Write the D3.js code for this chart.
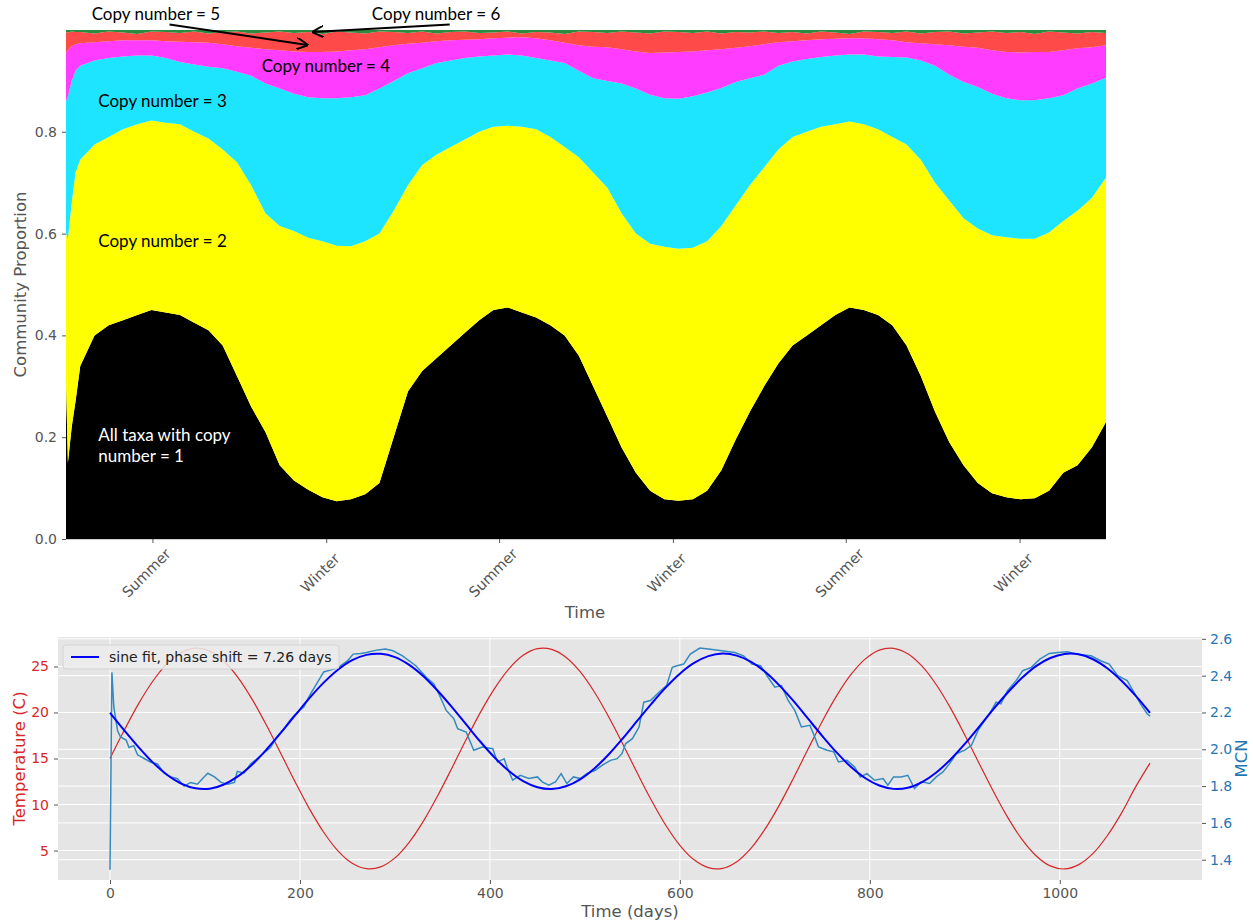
<!DOCTYPE html>
<html>
<head>
<meta charset="utf-8">
<script src="https://cdn.jsdelivr.net/npm/d3@7"></script>
<style>
  body { margin: 0; background: #fff; }
  svg text { font-family: "DejaVu Sans", sans-serif; }
  .note { font-family: Lato, "Open Sans", sans-serif; font-size: 17px; }
</style>
</head>
<body>
<svg id="chart" width="1253" height="922"></svg>
<script>
// ---- top panel: cumulative community proportion ----
const stackDays = [0, 2, 6, 10, 15, 30, 45, 60, 75, 90, 105, 120, 135, 150, 165, 180, 195, 210, 225, 240, 255, 270, 285, 300,
  315, 330, 345, 360, 375, 390, 405, 420, 435, 450, 465, 480, 495, 510, 525, 540, 555, 570, 585, 600, 615, 630, 645,
  660, 675, 690, 705, 720, 735, 750, 765, 780, 795, 810, 825, 840, 855, 870, 885, 900, 915, 930, 945, 960, 975, 990,
  1005, 1020, 1035, 1050, 1065, 1080, 1095];
// copy number <= 1
const upTo1 = [0.31, 0.15, 0.22, 0.27, 0.34, 0.40, 0.42, 0.43, 0.44, 0.45, 0.445, 0.44, 0.425, 0.41, 0.38, 0.32, 0.26, 0.21,
  0.145, 0.115, 0.097, 0.082, 0.074, 0.078, 0.088, 0.11, 0.20, 0.29, 0.33, 0.355, 0.38, 0.405, 0.43, 0.45, 0.455, 0.445,
  0.435, 0.42, 0.40, 0.36, 0.30, 0.24, 0.18, 0.13, 0.095, 0.078, 0.075, 0.078, 0.095, 0.135, 0.195, 0.25, 0.30, 0.345,
  0.38, 0.40, 0.42, 0.44, 0.455, 0.45, 0.44, 0.42, 0.38, 0.32, 0.25, 0.19, 0.145, 0.11, 0.09, 0.082, 0.078, 0.08, 0.095,
  0.13, 0.145, 0.18, 0.23];
// copy number <= 2
const upTo2 = [0.60, 0.59, 0.66, 0.72, 0.745, 0.775, 0.79, 0.805, 0.815, 0.822, 0.818, 0.815, 0.80, 0.787, 0.765, 0.74, 0.695,
  0.64, 0.615, 0.605, 0.592, 0.585, 0.576, 0.575, 0.585, 0.60, 0.645, 0.695, 0.735, 0.755, 0.77, 0.785, 0.80, 0.81, 0.812,
  0.81, 0.805, 0.79, 0.77, 0.75, 0.72, 0.69, 0.64, 0.60, 0.58, 0.574, 0.570, 0.572, 0.585, 0.615, 0.655, 0.695, 0.73,
  0.765, 0.79, 0.80, 0.81, 0.815, 0.82, 0.815, 0.805, 0.79, 0.775, 0.745, 0.70, 0.665, 0.63, 0.61, 0.597, 0.593, 0.59,
  0.59, 0.602, 0.625, 0.645, 0.67, 0.71];
// copy number <= 3
const upTo3 = [0.86, 0.87, 0.90, 0.92, 0.93, 0.94, 0.945, 0.948, 0.95, 0.95, 0.945, 0.937, 0.932, 0.928, 0.925, 0.918, 0.91,
  0.895, 0.885, 0.875, 0.868, 0.866, 0.866, 0.868, 0.872, 0.885, 0.90, 0.915, 0.925, 0.935, 0.94, 0.945, 0.948, 0.95,
  0.952, 0.95, 0.945, 0.94, 0.935, 0.92, 0.905, 0.90, 0.895, 0.885, 0.873, 0.866, 0.865, 0.87, 0.877, 0.886, 0.898, 0.905,
  0.912, 0.93, 0.938, 0.943, 0.947, 0.95, 0.952, 0.952, 0.948, 0.947, 0.946, 0.94, 0.93, 0.912, 0.898, 0.888, 0.875,
  0.866, 0.862, 0.862, 0.866, 0.872, 0.885, 0.895, 0.906];
// copy number <= 4
const upTo4 = [0.955, 0.96, 0.968, 0.972, 0.974, 0.976, 0.978, 0.98, 0.98, 0.98, 0.978, 0.977, 0.976, 0.975, 0.972, 0.968,
  0.965, 0.962, 0.96, 0.958, 0.957, 0.957, 0.958, 0.96, 0.962, 0.966, 0.97, 0.973, 0.975, 0.978, 0.98, 0.981, 0.982, 0.984,
  0.985, 0.986, 0.984, 0.98, 0.975, 0.97, 0.967, 0.966, 0.962, 0.958, 0.955, 0.956, 0.957, 0.958, 0.96, 0.962, 0.965,
  0.968, 0.972, 0.976, 0.978, 0.98, 0.982, 0.983, 0.984, 0.984, 0.982, 0.98, 0.976, 0.974, 0.972, 0.97, 0.967, 0.965,
  0.96, 0.957, 0.956, 0.957, 0.957, 0.96, 0.964, 0.966, 0.97];
// copy number <= 5 (the rest, copy number 6, fills up to 1)
const upTo5 = [0.996, 0.995, 0.997, 0.996, 0.996, 0.993, 0.997, 0.995, 0.992, 0.997, 0.996, 0.994, 0.997, 0.993, 0.996,
  0.997, 0.993, 0.995, 0.997, 0.994, 0.996, 0.992, 0.997, 0.995, 0.993, 0.997, 0.996, 0.994, 0.997, 0.993, 0.996, 0.997,
  0.994, 0.995, 0.997, 0.993, 0.996, 0.995, 0.992, 0.997, 0.996, 0.994, 0.997, 0.995, 0.993, 0.997, 0.996, 0.994, 0.997,
  0.993, 0.996, 0.995, 0.997, 0.994, 0.996, 0.993, 0.997, 0.995, 0.992, 0.997, 0.996, 0.994, 0.997, 0.993, 0.996, 0.997,
  0.993, 0.995, 0.997, 0.994, 0.996, 0.992, 0.997, 0.995, 0.993, 0.996, 0.994];
const layerColors = ["#000000", "#ffff00", "#1ee5ff", "#ff3cff", "#ff4a4a", "#2e8b3e"];

const seasonDays = [91, 274, 456, 639, 821, 1004];
const seasonLabels = ["Summer", "Winter", "Summer", "Winter", "Summer", "Winter"];

const noteText = ["Copy number = 5", "Copy number = 6", "Copy number = 4", "Copy number = 3", "Copy number = 2",
  "All taxa with copy", "number = 1"];
const noteDay = [27, 322, 206, 34, 34, 34, 34];
const noteValue = [1.02, 1.02, 0.9175, 0.849, 0.574, 0.1925, 0.151];
const noteColor = ["#000", "#000", "#000", "#000", "#000", "#fff", "#fff"];
// arrows: [fromDay, fromValue, toDay, toValue]
const arrows = [[109, 1.011, 254, 0.9705], [404, 1.011, 260, 0.996]];

// ---- bottom panel ----
const gridDays = [0, 15, 30, 45, 60, 75, 90, 105, 120, 135, 150, 165, 180, 195, 210, 225, 240, 255, 270, 285, 300, 315, 330,
  345, 360, 375, 390, 405, 420, 435, 450, 465, 480, 495, 510, 525, 540, 555, 570, 585, 600, 615, 630, 645, 660, 675, 690,
  705, 720, 735, 750, 765, 780, 795, 810, 825, 840, 855, 870, 885, 900, 915, 930, 945, 960, 975, 990, 1005, 1020, 1035,
  1050, 1065, 1080, 1095];
const temperature = [15.00, 18.06, 20.93, 23.39, 25.31, 26.53, 27.00, 26.67, 25.56, 23.76, 21.37, 18.56, 15.52, 12.44, 9.53,
  6.99, 4.97, 3.62, 3.03, 3.22, 4.20, 5.90, 8.20, 10.95, 13.97, 17.06, 20.01, 22.62, 24.74, 26.21, 26.93, 26.86, 26.01,
  24.43, 22.22, 19.53, 16.55, 13.45, 10.47, 7.78, 5.57, 3.99, 3.14, 3.07, 3.79, 5.26, 7.38, 9.99, 12.94, 16.03, 19.05,
  21.80, 24.10, 25.80, 26.78, 26.97, 26.38, 25.03, 23.01, 20.47, 17.56, 14.48, 11.44, 8.63, 6.24, 4.44, 3.33, 3.00, 3.47,
  4.69, 6.61, 9.07, 11.94, 14.50];
const sineFit = [2.198, 2.103, 2.012, 1.929, 1.862, 1.814, 1.788, 1.786, 1.809, 1.854, 1.919, 2.000, 2.090, 2.185, 2.278,
  2.362, 2.432, 2.484, 2.513, 2.519, 2.501, 2.459, 2.397, 2.318, 2.229, 2.135, 2.041, 1.955, 1.882, 1.827, 1.794, 1.784,
  1.799, 1.837, 1.896, 1.972, 2.060, 2.154, 2.247, 2.335, 2.411, 2.469, 2.506, 2.520, 2.509, 2.475, 2.420, 2.346, 2.260,
  2.166, 2.072, 1.983, 1.905, 1.844, 1.803, 1.785, 1.791, 1.822, 1.874, 1.945, 2.029, 2.122, 2.217, 2.307, 2.387, 2.452,
  2.496, 2.518, 2.516, 2.489, 2.440, 2.372, 2.290, 2.198];
const mcnDays = [0, 2, 4, 8, 11, 17, 20, 25, 29, 36, 43, 50, 57, 64, 71, 78, 85, 92, 99, 103, 110, 117, 124, 131, 134, 141,
  148, 155, 162, 169, 176, 183, 190, 197, 204, 211, 218, 225, 232, 239, 250, 256, 264, 270, 282, 290, 298, 308, 322, 333,
  341, 347, 354, 362, 366, 375, 383, 392, 403, 408, 415, 418, 424, 432, 441, 450, 455, 462, 469, 475, 481, 488, 495, 502,
  511, 518, 527, 534, 539, 543, 550, 557, 562, 569, 578, 586, 592, 597, 604, 611, 621, 630, 644, 658, 667, 676, 685, 693,
  700, 707, 714, 721, 728, 737, 742, 746, 755, 762, 767, 776, 784, 790, 797, 805, 814, 819, 825, 833, 840, 847, 854, 863,
  870, 877, 884, 891, 900, 907, 914, 921, 928, 933, 938, 945, 954, 961, 970, 979, 989, 998, 1008, 1021, 1033, 1043, 1052,
  1061, 1071, 1078, 1085, 1092, 1095];
const mcnValues = [1.346, 2.418, 2.23, 2.10, 2.067, 2.05, 2.01, 2.02, 1.97, 1.95, 1.93, 1.92, 1.87, 1.85, 1.84, 1.80, 1.82,
  1.81, 1.85, 1.87, 1.85, 1.82, 1.81, 1.82, 1.88, 1.87, 1.92, 1.95, 1.98, 2.01, 2.07, 2.11, 2.16, 2.20, 2.23, 2.30, 2.36,
  2.42, 2.43, 2.44, 2.48, 2.517, 2.52, 2.526, 2.54, 2.545, 2.535, 2.508, 2.454, 2.391, 2.355, 2.292, 2.211, 2.166, 2.112,
  2.094, 1.995, 2.012, 2.003, 1.931, 1.949, 1.904, 1.832, 1.859, 1.841, 1.85, 1.823, 1.805, 1.823, 1.868, 1.814, 1.85,
  1.841, 1.868, 1.886, 1.913, 1.94, 1.949, 1.976, 2.031, 2.058, 2.121, 2.256, 2.265, 2.31, 2.346, 2.445, 2.454, 2.463,
  2.517, 2.55, 2.545, 2.535, 2.526, 2.508, 2.463, 2.454, 2.39, 2.337, 2.346, 2.265, 2.211, 2.121, 2.130, 2.067, 2.013,
  1.995, 1.986, 1.931, 1.94, 1.904, 1.85, 1.868, 1.832, 1.841, 1.805, 1.85, 1.85, 1.859, 1.787, 1.823, 1.814, 1.85,
  1.877, 1.922, 1.976, 1.995, 2.022, 2.103, 2.157, 2.211, 2.256, 2.247, 2.319, 2.373, 2.427, 2.445, 2.49, 2.521, 2.526,
  2.53, 2.513, 2.508, 2.481, 2.463, 2.40, 2.373, 2.31, 2.247, 2.193, 2.18];
const dayTicks = [0, 200, 400, 600, 800, 1000];
const tempTicks = [5, 10, 15, 20, 25];
const mcnTicks = [1.4, 1.6, 1.8, 2.0, 2.2, 2.4, 2.6];

const svg = d3.select("#chart");
const grey = "#555555";

function styleAxis(g, color) {
  g.select(".domain").remove();
  g.selectAll(".tick line").attr("stroke", grey);
  g.selectAll(".tick text").attr("fill", color).style("font-size", "14px")
    .style("font-family", "'DejaVu Sans', sans-serif");
}

// ================= top panel =================
const xTop = d3.scaleLinear().domain([0, 1095]).range([66, 1106]);
const yTop = d3.scaleLinear().domain([0, 1]).range([539, 30]);

const rows = stackDays.map((d, i) => ({
  day: d,
  b: [0, upTo1[i], upTo2[i], upTo3[i], upTo4[i], upTo5[i], 1]
}));

const topG = svg.append("g");
layerColors.forEach((c, k) => {
  const area = d3.area()
    .x(d => xTop(d.day))
    .y0(d => yTop(d.b[k]))
    .y1(d => yTop(d.b[k + 1]));
  topG.append("path").datum(rows).attr("d", area).attr("fill", c);
});

topG.append("line")
  .attr("x1", 66).attr("x2", 1106)
  .attr("y1", 539.5).attr("y2", 539.5)
  .attr("stroke", "#cccccc");

const yAxisTop = topG.append("g").attr("transform", "translate(66,0)")
  .call(d3.axisLeft(yTop).tickValues([0, 0.2, 0.4, 0.6, 0.8]).tickFormat(d3.format(".1f")).tickSize(4).tickPadding(5));
styleAxis(yAxisTop, grey);

const xAxisTop = topG.append("g").attr("transform", "translate(0,539)")
  .call(d3.axisBottom(xTop).tickValues(seasonDays).tickFormat("").tickSize(4));
styleAxis(xAxisTop, grey);

topG.selectAll(".season")
  .data(seasonDays)
  .join("text")
  .attr("class", "season")
  .attr("transform", d => `translate(${xTop(d) - 6},${573}) rotate(-45)`)
  .attr("text-anchor", "middle")
  .attr("dominant-baseline", "central")
  .attr("fill", grey)
  .style("font-size", "14.5px")
  .text((d, i) => seasonLabels[i]);

topG.append("text")
  .attr("x", 585).attr("y", 618)
  .attr("text-anchor", "middle")
  .attr("fill", grey)
  .style("font-size", "16.5px")
  .text("Time");

topG.append("text")
  .attr("transform", `translate(26,${(30 + 539) / 2}) rotate(-90)`)
  .attr("text-anchor", "middle")
  .attr("fill", grey)
  .style("font-size", "16.5px")
  .text("Community Proportion");

// annotations
svg.append("defs").append("marker")
  .attr("id", "head")
  .attr("viewBox", "0 0 10 10")
  .attr("refX", 9).attr("refY", 5)
  .attr("markerWidth", 6).attr("markerHeight", 6)
  .attr("orient", "auto")
  .append("path")
  .attr("d", "M0,0 L10,5 L0,10")
  .attr("fill", "none")
  .attr("stroke", "#000")
  .attr("stroke-width", 1.6);

topG.selectAll(".arrow")
  .data(arrows)
  .join("line")
  .attr("class", "arrow")
  .attr("x1", d => xTop(d[0])).attr("y1", d => yTop(d[1]))
  .attr("x2", d => xTop(d[2])).attr("y2", d => yTop(d[3]))
  .attr("stroke", "#000")
  .attr("stroke-width", 2)
  .attr("marker-end", "url(#head)");

topG.selectAll(".note")
  .data(noteText)
  .join("text")
  .attr("class", "note")
  .attr("x", (d, i) => xTop(noteDay[i]))
  .attr("y", (d, i) => yTop(noteValue[i]))
  .attr("fill", (d, i) => noteColor[i])
  .text(d => d);

// ================= bottom panel =================
const left = 58, right = 1202, y0 = 880, y1 = 637;
const xBot = d3.scaleLinear().domain([-54.75, 1149.75]).range([left, right]);
const yTemp = d3.scaleLinear().domain([1.8, 28.2]).range([y0, y1]);
const yMcn = d3.scaleLinear().domain([1.29, 2.61]).range([y0, y1]);

const bot = svg.append("g");
bot.append("rect")
  .attr("x", left).attr("y", y1)
  .attr("width", right - left).attr("height", y0 - y1)
  .attr("fill", "#e5e5e5");

// grid
bot.selectAll(".vgrid").data(dayTicks).join("line")
  .attr("x1", d => xBot(d)).attr("x2", d => xBot(d))
  .attr("y1", y1).attr("y2", y0)
  .attr("stroke", "#fff").attr("stroke-width", 1);
bot.selectAll(".tgrid").data(tempTicks).join("line")
  .attr("x1", left).attr("x2", right)
  .attr("y1", d => yTemp(d)).attr("y2", d => yTemp(d))
  .attr("stroke", "#fff").attr("stroke-width", 1);
bot.selectAll(".mgrid").data(mcnTicks).join("line")
  .attr("x1", left).attr("x2", right)
  .attr("y1", d => yMcn(d)).attr("y2", d => yMcn(d))
  .attr("stroke", "#fff").attr("stroke-width", 1);

const tempLine = d3.line()
  .x((d, i) => xBot(gridDays[i]))
  .y(d => yTemp(d))
  .curve(d3.curveCatmullRom);
bot.append("path").datum(temperature)
  .attr("d", tempLine)
  .attr("fill", "none").attr("stroke", "#d62728").attr("stroke-width", 1.2);

const mcnLine = d3.line()
  .x((d, i) => xBot(mcnDays[i]))
  .y(d => yMcn(d));
bot.append("path").datum(mcnValues)
  .attr("d", mcnLine)
  .attr("fill", "none").attr("stroke", "#348abd").attr("stroke-width", 1.5);

const fitLine = d3.line()
  .x((d, i) => xBot(gridDays[i]))
  .y(d => yMcn(d))
  .curve(d3.curveCatmullRom);
bot.append("path").datum(sineFit)
  .attr("d", fitLine)
  .attr("fill", "none").attr("stroke", "#0000ff").attr("stroke-width", 2);

// axes
const xAxisBot = bot.append("g").attr("transform", `translate(0,${y0})`)
  .call(d3.axisBottom(xBot).tickValues(dayTicks).tickFormat(d3.format("d")).tickSize(4).tickPadding(4));
styleAxis(xAxisBot, grey);

const yAxisTemp = bot.append("g").attr("transform", `translate(${left},0)`)
  .call(d3.axisLeft(yTemp).tickValues(tempTicks).tickSize(4).tickPadding(5));
styleAxis(yAxisTemp, "#d62728");

const yAxisMcn = bot.append("g").attr("transform", `translate(${right},0)`)
  .call(d3.axisRight(yMcn).tickValues(mcnTicks).tickFormat(d3.format(".1f")).tickSize(4).tickPadding(4));
styleAxis(yAxisMcn, "#1f77b4");

bot.append("text")
  .attr("x", (left + right) / 2).attr("y", 917)
  .attr("text-anchor", "middle").attr("fill", grey)
  .style("font-size", "16.5px")
  .text("Time (days)");

bot.append("text")
  .attr("transform", `translate(25,${(y0 + y1) / 2}) rotate(-90)`)
  .attr("text-anchor", "middle").attr("fill", "#d62728")
  .style("font-size", "16.5px")
  .text("Temperature (C)");

bot.append("text")
  .attr("transform", `translate(1247,${(y0 + y1) / 2}) rotate(-90)`)
  .attr("text-anchor", "middle").attr("fill", "#1f77b4")
  .style("font-size", "16.5px")
  .text("MCN");

// legend
const leg = bot.append("g").attr("transform", `translate(${left + 5},${y1 + 8})`);
leg.append("rect")
  .attr("width", 276).attr("height", 24).attr("rx", 3)
  .attr("fill", "#ececec").attr("fill-opacity", 0.85)
  .attr("stroke", "#d4d4d4");
leg.append("line")
  .attr("x1", 8).attr("x2", 36).attr("y1", 12).attr("y2", 12)
  .attr("stroke", "#0000ff").attr("stroke-width", 2);
leg.append("text")
  .attr("x", 46).attr("y", 17)
  .attr("fill", "#222")
  .style("font-size", "14px")
  .text("sine fit, phase shift = 7.26 days");
</script>
</body>
</html>
